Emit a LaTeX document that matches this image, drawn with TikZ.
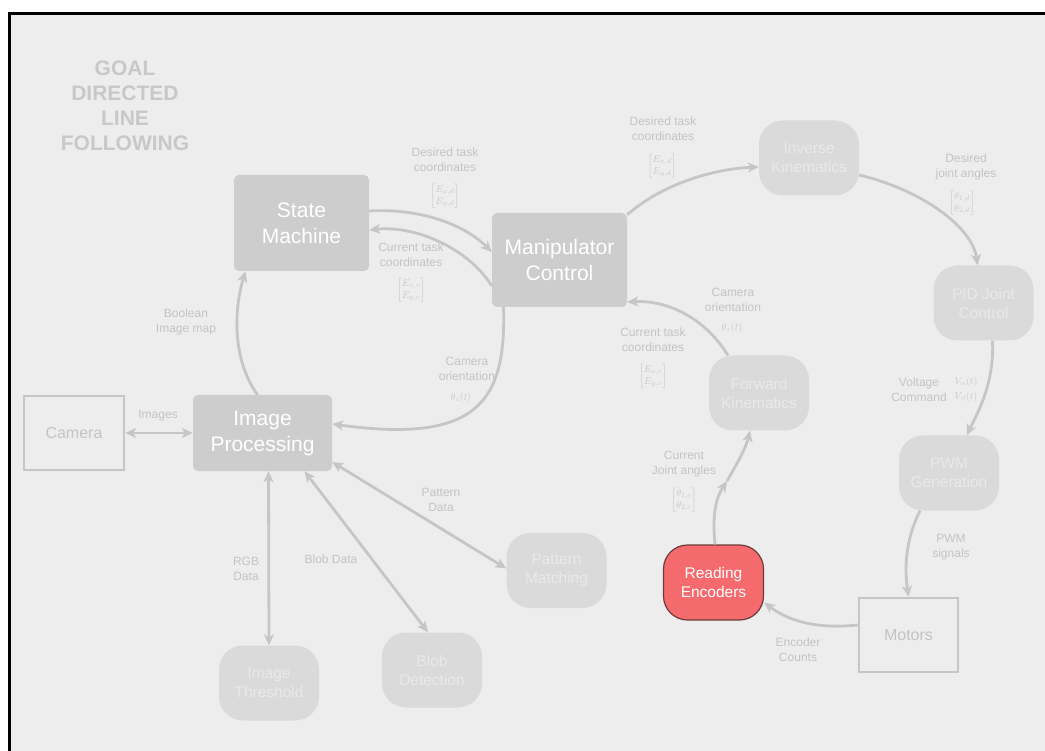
\documentclass[tikz,border=0pt]{standalone}
\usepackage{amsmath}
\usepackage{fontspec}
\setmainfont{Liberation Sans}
\usetikzlibrary{arrows.meta,calc}
\definecolor{bg}{HTML}{EDEDED}
\definecolor{lnc}{HTML}{C6C6C6}
\definecolor{lbl}{HTML}{C4C4C4}
\definecolor{mlbl}{HTML}{C8C8C8}
\definecolor{boxc}{HTML}{CDCDCD}
\definecolor{fadec}{HTML}{DADADA}
\definecolor{fadet}{HTML}{E9E9E9}
\definecolor{redc}{HTML}{F46A6D}
\definecolor{redb}{HTML}{6E3B3B}
\definecolor{titlec}{HTML}{C8C8C8}
\begin{document}
\begin{tikzpicture}[x=1pt,y=-1pt,
 bigbox/.style={rectangle, rounded corners=5pt, fill=boxc, text=white, font=\fontsize{21}{26}\selectfont, align=center, inner sep=0pt},
 fadebox/.style={rectangle, rounded corners=24pt, fill=fadec, text=fadet, font=\fontsize{15.5}{19}\selectfont, align=center, minimum width=100pt, minimum height=75pt, inner sep=0pt},
 redbox/.style={rectangle, rounded corners=24pt, fill=redc, draw=redb, line width=1.2pt, text=white, font=\fontsize{15.5}{19}\selectfont, align=center, minimum width=100pt, minimum height=75pt, inner sep=0pt},
 plainbox/.style={rectangle, draw=lnc, line width=2.5pt, fill=bg, text=lbl, font=\fontsize{16}{19}\selectfont, inner sep=0pt, minimum width=100pt, minimum height=74pt},
 tip/.tip={Stealth[length=11pt,width=10pt,inset=3pt]},
 conn/.style={draw=lnc, line width=2.8pt, -tip},
 dconn/.style={draw=lnc, line width=2.8pt, tip-tip},
 lab/.style={text=lbl, font=\fontsize{12}{15}\selectfont, align=center, inner sep=0pt},
 mlab/.style={text=mlbl, font=\fontsize{10}{12}\selectfont, align=center, inner sep=0pt},
]
\useasboundingbox (0,0) rectangle (1045,751);
\fill[white] (0,0) rectangle (1045,751);
\fill[bg] (10,13) rectangle (1045,751);
\draw[black, line width=3.5pt] (9.5,751) -- (9.5,13.5) -- (1045,13.5);

% title
\node[text=titlec, font=\fontsize{21}{25}\selectfont\bfseries, align=center] (title) at (125,106) {GOAL\\DIRECTED\\LINE\\FOLLOWING};

% main boxes
\node[bigbox, minimum width=135pt, minimum height=96pt] (sm) at (301.5,223) {State\\Machine};
\node[bigbox, minimum width=135pt, minimum height=94pt] (mc) at (559.5,260) {Manipulator\\Control};
\node[bigbox, minimum width=139pt, minimum height=76pt] (ip) at (262.5,433) {Image\\Processing};
\node[plainbox, minimum width=100pt, minimum height=74pt] (cam) at (74,433) {Camera};
\node[plainbox, minimum width=99pt, minimum height=74pt] (mot) at (908.5,635) {Motors};

\node[fadebox] (ik) at (809,158) {Inverse\\Kinematics};
\node[fadebox] (pid) at (983.5,303) {PID Joint\\Control};
\node[fadebox] (fk) at (759,393) {Forward\\Kinematics};
\node[fadebox] (pwm) at (949,473) {PWM\\Generation};
\node[redbox] (re) at (713.5,582.5) {Reading\\Encoders};
\node[fadebox] (pm) at (556.5,570.5) {Pattern\\Matching};
\node[fadebox] (bd) at (432,670) {Blob\\Detection};
\node[fadebox] (it) at (269,683) {Image\\Threshold};

% connectors
\draw[conn] ([xshift=-5pt]ip.north) .. controls ($([xshift=-5pt]ip.north)+(-25,-35)$) and ($([xshift=-56pt]sm.south)+(-12,40)$) .. ([xshift=-56pt]sm.south);
\draw[conn] ([yshift=12pt]sm.east) .. controls ($([yshift=12pt]sm.east)+(52,-3)$) and ($([yshift=8pt]mc.west)+(-27,-27)$) .. ([yshift=8pt]mc.west);
\draw[conn] ([yshift=-26pt]mc.west) .. controls ($([yshift=-26pt]mc.west)+(-22,-36)$) and ($([yshift=-7pt]sm.east)+(48,-5)$) .. ([yshift=-7pt]sm.east);
\draw[conn] ([xshift=-56pt]mc.south) .. controls ($([xshift=-56pt]mc.south)+(3,95)$) and ($([yshift=9pt]ip.east)+(145,20)$) .. ([yshift=9pt]ip.east);
\draw[conn] ([yshift=-2pt]mc.north east) .. controls ($([yshift=-2pt]mc.north east)+(34,-30)$) and ($([yshift=-9pt]ik.west)+(-47,2)$) .. ([yshift=-9pt]ik.west);
\draw[conn] ([yshift=-17pt]ik.east) .. controls ($([yshift=-17pt]ik.east)+(63,15)$) and ($([xshift=-6pt]pid.north)+(-5,-38)$) .. ([xshift=-6pt]pid.north);
\draw[conn] ([xshift=9pt]pid.south) .. controls ($([xshift=9pt]pid.south)+(2,44)$) and ($([xshift=18pt]pwm.north)+(10,-22)$) .. ([xshift=18pt]pwm.north);
\draw[conn] ([xshift=-29pt]pwm.south) .. controls ($([xshift=-29pt]pwm.south)+(-15,30)$) and ($(mot.north)+(-4,-28)$) .. (mot.north);
\draw[conn] ([yshift=10pt]mot.west) .. controls ($([yshift=10pt]mot.west)+(-48,5)$) and ($([yshift=-20pt]re.east)+(20,15)$) .. ([yshift=-20pt]re.east);
\coordinate (jm) at (727,481);
\draw[conn] ([xshift=1.5pt]re.north) .. controls ($([xshift=1.5pt]re.north)+(-3,-30)$) and ($(jm)+(-11,17)$) .. (jm);
\draw[conn] (jm) .. controls ($(jm)+(11,-19)$) and ($([xshift=-9pt]fk.south)+(-4,17)$) .. ([xshift=-9pt]fk.south);
\draw[conn] ([xshift=-31pt]fk.north) .. controls ($([xshift=-31pt]fk.north)+(-23,-37)$) and ($([yshift=-42pt]mc.east)+(41,-2)$) .. ([yshift=-42pt]mc.east);
\draw[dconn] (cam.east) -- (ip.west);
\draw[dconn] ([xshift=6pt]ip.south) -- ([xshift=0pt]it.north);
\draw[dconn] ([xshift=42pt]ip.south) -- ([xshift=-4pt]bd.north);
\draw[dconn] ([yshift=-29pt]ip.east) -- ([yshift=2pt]pm.west);

% labels
\node[lab] (l1) at (186,321.5) {Boolean\\Image map};
\node[lab] (l2) at (158,416) {Images};
\node[lab] (l3) at (246,569) {RGB\\Data};
\node[lab] (l4) at (331,559) {Blob Data};
\node[lab] (l5) at (441,499.5) {Pattern\\Data};
\node[lab] (l6) at (445,160) {Desired task\\coordinates};
\node[mlab] (m6) at (445,196) {$\begin{bmatrix}E_{x,d}\\E_{y,d}\end{bmatrix}$};
\node[lab] (l7) at (411,254.5) {Current task\\coordinates};
\node[mlab] (m7) at (411,290) {$\begin{bmatrix}E_{x,c}\\E_{y,c}\end{bmatrix}$};
\node[lab] (l8) at (467,369) {Camera\\orientation};
\node[mlab] (m8) at (461,398) {$\theta_z(t)$};
\node[lab] (l9) at (663,129) {Desired task\\coordinates};
\node[mlab] (m9) at (662,166) {$\begin{bmatrix}E_{x,d}\\E_{y,d}\end{bmatrix}$};
\node[lab] (l10) at (966,167) {Desired\\joint angles};
\node[mlab] (m10) at (962,203) {$\begin{bmatrix}\theta_{1,d}\\\theta_{2,d}\end{bmatrix}$};
\node[lab] (l11) at (733,299.5) {Camera\\orientation};
\node[mlab] (m11) at (732,328) {$\theta_z(t)$};
\node[lab] (l12) at (653,340) {Current task\\coordinates};
\node[mlab] (m12) at (653,376) {$\begin{bmatrix}E_{x,c}\\E_{y,c}\end{bmatrix}$};
\node[lab] (l13) at (684,464) {Current\\Joint angles};
\node[mlab] (m13) at (684,500) {$\begin{bmatrix}\theta_{1,c}\\\theta_{2,c}\end{bmatrix}$};
\node[lab] (l14) at (919,389.5) {Voltage\\Command};
\node[mlab, font=\fontsize{10}{15}\selectfont] (m14) at (966,389.5) {$V_\alpha(t)$\\$V_\beta(t)$};
\node[lab] (l15) at (951,547.5) {PWM\\signals};
\node[lab] (l16) at (798,649.5) {Encoder\\Counts};
\end{tikzpicture}
\end{document}
